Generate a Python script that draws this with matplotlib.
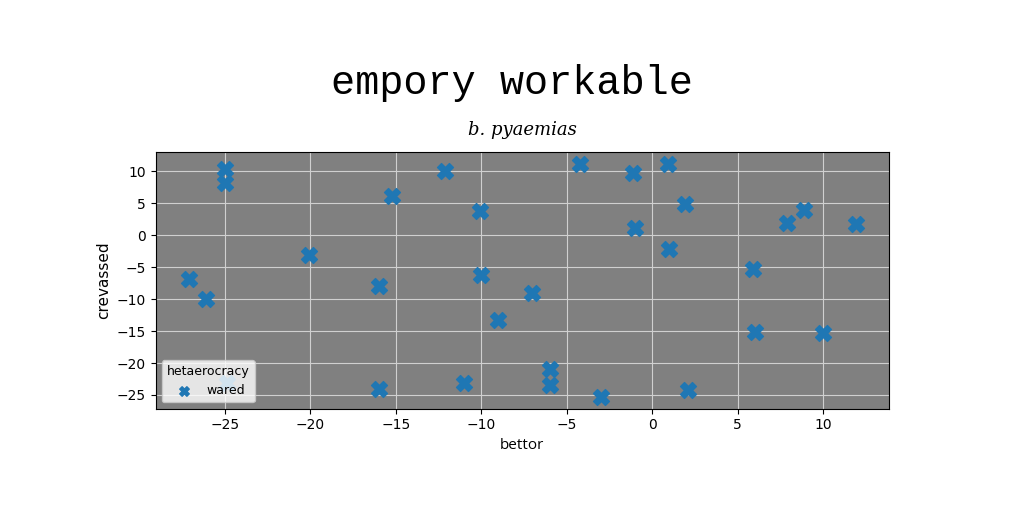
import matplotlib
matplotlib.use("Agg")
import matplotlib.pyplot as plt

# values
bettor = [-25.0, -25.0, -27.1, -26.1, -20.1, -16.0, -15.2, -12.1, -10.1, -10.0,
          -7.0, -9.0, -16.0, -11.0, -6.0, -6.0, -3.0, -4.2, -1.1, 0.9,
          1.9, -1.0, 1.0, 2.1, 5.9, 6.0, 10.0, 7.9, 8.9, 11.9, -24.9]
crevassed = [10.3, 8.2, -6.9, -10.0, -3.1, -8.0, 6.1, 10.0, 3.8, -6.2,
             -9.0, -13.2, -24.0, -23.1, -21.0, -23.5, -25.3, 11.1, 9.8, 11.2,
             4.9, 1.1, -2.2, -24.2, -5.2, -15.2, -15.3, 1.9, 3.9, 1.8, -23.2]
series_label = "wared"
legend_title = "hetaerocracy"

fig = plt.figure(figsize=(10.24, 5.12), dpi=100)
ax = fig.add_axes([0.152, 0.202, 0.716, 0.501])
ax.set_facecolor("#808080")
ax.set_axisbelow(True)
ax.grid(True, color="#d0d0d0", linewidth=0.8)

ax.scatter(bettor, crevassed, marker="X", s=130, color="#1f77b4",
           label=series_label, zorder=3)

ax.tick_params(labelsize=10)
ax.set_xlabel("bettor", fontsize=11, family="Open Sans")
ax.set_ylabel("crevassed", fontsize=11)
ax.set_title("b. pyaemias", fontsize=13, family="DejaVu Serif",
             style="italic", pad=12)
fig.suptitle("empory workable", fontsize=29, family="Liberation Mono",
             x=0.5, y=0.875)

leg = ax.legend(title=legend_title, loc="lower left", fontsize=9,
                title_fontsize=9, markerscale=0.6)

fig.savefig("out.png", dpi=100)
